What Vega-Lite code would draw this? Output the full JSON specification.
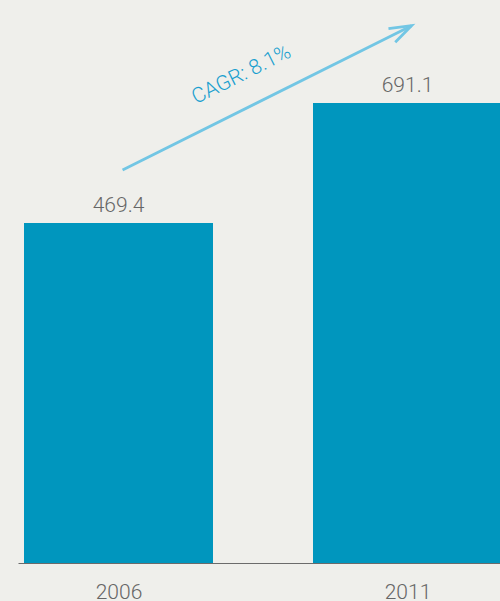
{
  "$schema": "https://vega.github.io/schema/vega-lite/v6.json",
  "autosize": "none",
  "width": 482,
  "height": 563,
  "padding": {"left": 18, "top": 0, "right": 0, "bottom": 38},
  "background": "#efefeb",
  "config": {
    "view": {"stroke": null},
    "font": "Roboto",
    "text": {"font": "Roboto"}
  },
  "datasets": {
    "bars": [
      {"year": 2006, "value": 469.4, "label": "469.4"},
      {"year": 2011, "value": 691.1, "label": "691.1"}
    ],
    "arrow": [
      {"year": 2006.07, "value": 567.3},
      {"year": 2011.07, "value": 833.9}
    ],
    "head": [
      {"year": 2011.07, "value": 833.9}
    ],
    "note": [
      {"year": 2008.13, "value": 743, "label": "CAGR: 8.1%"}
    ]
  },
  "layer": [
    {
      "data": {"name": "bars"},
      "mark": {"type": "bar", "width": 189, "color": "#0096be", "clip": true},
      "encoding": {
        "x": {
          "field": "year",
          "type": "quantitative",
          "scale": {"domain": [2004.2612, 2012.6003], "nice": false, "zero": false, "padding": 0},
          "axis": {
            "values": [2006, 2011],
            "format": "d",
            "title": null,
            "ticks": false,
            "grid": false,
            "domainColor": "#6b6b6b",
            "domainWidth": 1,
            "labelFont": "Roboto",
            "labelFontWeight": 300,
            "labelFontSize": 21,
            "labelColor": "#666666",
            "labelBaseline": "alphabetic",
            "labelPadding": 35,
            "labelFlush": false
          }
        },
        "y": {
          "field": "value",
          "type": "quantitative",
          "scale": {"domain": [-158.75, 881.39], "nice": false, "zero": false, "padding": 0},
          "axis": null
        },
        "y2": {"datum": -158.75}
      }
    },
    {
      "data": {"name": "bars"},
      "mark": {"type": "text", "baseline": "alphabetic", "align": "center", "dy": -11, "fontSize": 21, "fontWeight": 300, "color": "#666666"},
      "encoding": {
        "x": {"field": "year", "type": "quantitative"},
        "y": {"field": "value", "type": "quantitative"},
        "text": {"field": "label"}
      }
    },
    {
      "data": {"name": "arrow"},
      "mark": {"type": "line", "color": "#72c6e4", "strokeWidth": 2.8},
      "encoding": {
        "x": {"field": "year", "type": "quantitative"},
        "y": {"field": "value", "type": "quantitative"}
      }
    },
    {
      "data": {"name": "head"},
      "mark": {"type": "point", "shape": "M -2 -0.69 L 0 0 L -2 0.69", "size": 484, "angle": -26.5, "filled": false, "color": "#72c6e4", "strokeWidth": 2.8, "opacity": 1},
      "encoding": {
        "x": {"field": "year", "type": "quantitative"},
        "y": {"field": "value", "type": "quantitative"}
      }
    },
    {
      "data": {"name": "note"},
      "mark": {"type": "text", "angle": -26.5, "align": "center", "baseline": "middle", "fontSize": 21, "fontWeight": 300, "color": "#1a9fcf"},
      "encoding": {
        "x": {"field": "year", "type": "quantitative"},
        "y": {"field": "value", "type": "quantitative"},
        "text": {"field": "label"}
      }
    }
  ]
}
